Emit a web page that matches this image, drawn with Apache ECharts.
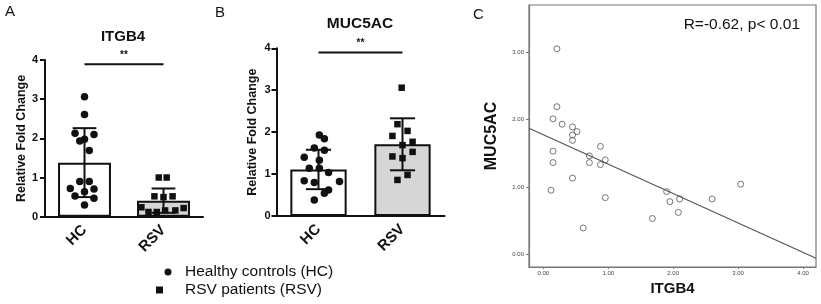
<!DOCTYPE html>
<html><head><meta charset="utf-8">
<script src="https://cdn.jsdelivr.net/npm/echarts@6/dist/echarts.min.js"></script>
<style>html,body{margin:0;padding:0;background:#fff}#c{width:821px;height:304px}</style>
</head><body><div id="c"></div>
<script>
// ---------- data ----------
const groups = ['HC', 'RSV'];
const legendNames = ['Healthy controls (HC)', 'RSV patients (RSV)'];
// Panel A: ITGB4 relative fold change
const itgb4HC = [3.06, 2.61, 2.13, 2.10, 1.98, 1.93, 1.69, 0.90, 0.90, 0.72, 0.71, 0.64, 0.53, 0.47, 0.30];
const itgb4HCJitter = [0, 0, -0.12, 0.12, 0, -0.06, 0.06, -0.06, 0.06, -0.18, 0.12, 0, -0.12, 0.12, 0];
const itgb4RSV = [1.00, 1.00, 0.52, 0.50, 0.52, 0.24, 0.12, 0.12, 0.16, 0.16, 0.22];
const itgb4RSVJitter = [-0.06, 0.04, -0.115, 0, 0.115, -0.28, -0.19, -0.085, 0.02, 0.15, 0.255];
const itgb4Mean = [1.38, 0.41];
const itgb4SD = [0.88, 0.31];
const itgb4Sig = [0, 1, 3.89];
// Panel B: MUC5AC relative fold change
const muc5acHC = [1.93, 1.84, 1.62, 1.57, 1.40, 1.33, 1.14, 1.14, 1.04, 0.84, 0.80, 0.82, 0.62, 0.54, 0.38];
const muc5acHCJitter = [0.01, 0.07, -0.05, 0.07, -0.17, 0.01, -0.11, 0.01, 0.12, -0.17, -0.05, 0.25, 0.12, 0.07, -0.05];
const muc5acRSV = [3.06, 2.19, 2.03, 1.91, 1.77, 1.69, 1.53, 1.42, 1.38, 0.98, 0.86];
const muc5acRSVJitter = [-0.01, -0.06, 0.06, -0.12, 0.12, 0, 0.12, -0.12, 0, 0.06, -0.06];
const muc5acMean = [1.11, 1.71];
const muc5acSD = [0.47, 0.62];
const muc5acSig = [0, 1, 3.90];
// Panel C: correlation
const cITGB4 = [0.21, 0.21, 0.15, 0.29, 0.45, 0.52, 0.45, 0.45, 0.15, 0.88, 0.71, 0.955, 0.15, 0.71, 0.88, 0.45, 0.12, 0.955, 0.615, 1.68, 1.90, 1.95, 2.10, 2.08, 2.60, 3.04];
const cMUC5AC = [3.05, 2.19, 2.01, 1.93, 1.89, 1.82, 1.77, 1.69, 1.53, 1.60, 1.46, 1.40, 1.36, 1.36, 1.33, 1.13, 0.95, 0.84, 0.39, 0.53, 0.93, 0.78, 0.82, 0.62, 0.82, 1.04];
const regLineX = [-0.22, 4.2];
const regLineY = [1.87, -0.06];
const cXTicks = [0, 1, 2, 3, 4];
const cYTicks = [0, 1, 2, 3];
const corrText = 'R=-0.62, p< 0.01';

// ---------- chart ----------
const FONT = '"Liberation Sans", Arial, sans-serif';
const INK = '#111';
const chart = echarts.init(document.getElementById('c'));

function pts(vals, jit, idx) { return vals.map((v, i) => [idx + jit[i], v]); }
function errData(means, sds) { return means.map((m, i) => [i, m, sds[i]]); }
function errRender(params, api) {
  const x = api.value(0), m = api.value(1), s = api.value(2);
  const t = api.coord([x, m + s]), b = api.coord([x, m - s]);
  const tl = api.coord([x - 0.15, m + s]), tr = api.coord([x + 0.15, m + s]);
  const bl = api.coord([x - 0.15, m - s]), br = api.coord([x + 0.15, m - s]);
  const style = { stroke: INK, lineWidth: 2 };
  return { type: 'group', children: [
    { type: 'line', shape: { x1: t[0], y1: t[1], x2: b[0], y2: b[1] }, style },
    { type: 'line', shape: { x1: tl[0], y1: tl[1], x2: tr[0], y2: tr[1] }, style },
    { type: 'line', shape: { x1: bl[0], y1: bl[1], x2: br[0], y2: br[1] }, style }
  ]};
}
function sigRender(params, api) {
  const x1 = api.value(0), x2 = api.value(1), y = api.value(2);
  const a = api.coord([x1, y]), b = api.coord([x2, y]);
  return { type: 'group', children: [
    { type: 'line', shape: { x1: a[0], y1: a[1], x2: b[0], y2: b[1] }, style: { stroke: INK, lineWidth: 2 } },
    { type: 'text', x: (a[0] + b[0]) / 2, y: a[1] - 4, style: { text: '**', fill: INK, font: 'bold 10px ' + FONT, textAlign: 'center', textVerticalAlign: 'bottom' } }
  ]};
}

const catAxis = (grid) => ({
  type: 'category', gridIndex: grid, data: groups,
  axisLine: { onZero: false, lineStyle: { color: INK, width: 2 } },
  axisTick: { alignWithLabel: true, length: 5, lineStyle: { color: INK, width: 2 } },
  axisLabel: { rotate: 45, margin: 11, color: INK, fontFamily: FONT, fontWeight: 'bold', fontSize: 15 }
});
const hidValAxis = (grid) => ({ type: 'value', gridIndex: grid, min: -0.5, max: 1.5, show: false, axisLine: { onZero: false } });
const fcAxis = (grid, margin) => ({
  type: 'value', gridIndex: grid, min: 0, max: 4, interval: 1,
  name: 'Relative Fold Change', nameLocation: 'middle', nameGap: 17,
  nameTextStyle: { color: INK, fontFamily: FONT, fontWeight: 'bold', fontSize: 12.5 },
  axisLine: { show: true, onZero: false, lineStyle: { color: INK, width: 2 } },
  axisTick: { show: true, length: 5, lineStyle: { color: INK, width: 2 } },
  axisLabel: { margin: margin, color: INK, fontFamily: FONT, fontWeight: 'bold', fontSize: 11 },
  splitLine: { show: false }
});

const option = {
  animation: false,
  backgroundColor: '#fff',
  textStyle: { fontFamily: FONT },
  grid: [
    { left: 45, top: 60, width: 158, height: 156.7 },
    { left: 276.5, top: 48.3, width: 168, height: 167.7 },
    { left: 529, top: 5, width: 287, height: 262, show: true, borderColor: '#777', borderWidth: 1.2 }
  ],
  xAxis: [
    catAxis(0), hidValAxis(0), catAxis(1), hidValAxis(1),
    { type: 'value', gridIndex: 2, min: regLineX[0], max: regLineX[1],
      name: 'ITGB4', nameLocation: 'middle', nameGap: 11,
      nameTextStyle: { color: INK, fontFamily: FONT, fontWeight: 'bold', fontSize: 15 },
      axisLine: { show: true, onZero: false, lineStyle: { color: '#777', width: 1.2 } },
      axisTick: { show: true, length: 2, customValues: cXTicks, lineStyle: { color: '#777' } },
      axisLabel: { customValues: cXTicks, margin: 3, color: '#444', fontSize: 6, fontFamily: FONT, formatter: v => v.toFixed(2) },
      splitLine: { show: false } }
  ],
  yAxis: [
    fcAxis(0, 7), fcAxis(1, 6),
    { type: 'value', gridIndex: 2, min: -0.19, max: 3.70,
      name: 'MUC5AC', nameLocation: 'middle', nameGap: 29,
      nameTextStyle: { color: INK, fontFamily: FONT, fontWeight: 'bold', fontSize: 16 },
      axisLine: { show: true, onZero: false, lineStyle: { color: '#777', width: 1.2 } },
      axisTick: { show: true, length: 3, customValues: cYTicks, lineStyle: { color: '#777' } },
      axisLabel: { customValues: cYTicks, margin: 5, color: '#444', fontSize: 6, fontFamily: FONT, formatter: v => v.toFixed(2) },
      splitLine: { show: false } }
  ],
  legend: {
    orient: 'vertical', left: 156, top: 264, height: 40, padding: 0, itemWidth: 24, itemHeight: 7, itemGap: 2,
    selectedMode: false,
    textStyle: { color: INK, fontFamily: FONT, fontSize: 15.5 },
    data: [{ name: legendNames[0], icon: 'circle' }, { name: legendNames[1], icon: 'square' }]
  },
  graphic: [
    { type: 'text', x: 5, y: 4, style: { text: 'A', font: '15px ' + FONT, fill: INK } },
    { type: 'text', x: 215, y: 5, style: { text: 'B', font: '15px ' + FONT, fill: INK } },
    { type: 'text', x: 473, y: 7, style: { text: 'C', font: '15px ' + FONT, fill: INK } },
    { type: 'text', x: 123, y: 37, style: { text: 'ITGB4', font: 'bold 15px ' + FONT, fill: INK, textAlign: 'center', textVerticalAlign: 'middle' } },
    { type: 'text', x: 360, y: 23.5, style: { text: 'MUC5AC', font: 'bold 15.5px ' + FONT, fill: INK, textAlign: 'center', textVerticalAlign: 'middle' } },
    { type: 'text', x: 800, y: 25, style: { text: corrText, font: '15.5px ' + FONT, fill: INK, textAlign: 'right', textVerticalAlign: 'middle' } }
  ],
  series: [
    // Panel A
    { type: 'bar', xAxisIndex: 0, yAxisIndex: 0, barWidth: '67%', z: 1,
      data: itgb4Mean.map((m, i) => ({ value: m, itemStyle: { color: i === 0 ? '#fff' : '#d6d6d6' } })),
      itemStyle: { borderColor: INK, borderWidth: 2 } },
    { type: 'scatter', name: legendNames[0], xAxisIndex: 1, yAxisIndex: 0, symbol: 'circle', symbolSize: 7.5, z: 3,
      itemStyle: { color: INK, opacity: 1 }, data: pts(itgb4HC, itgb4HCJitter, 0) },
    { type: 'scatter', name: legendNames[1], xAxisIndex: 1, yAxisIndex: 0, symbol: 'rect', symbolSize: 6.5, z: 3,
      itemStyle: { color: INK, opacity: 1 }, data: pts(itgb4RSV, itgb4RSVJitter, 1) },
    { type: 'custom', xAxisIndex: 1, yAxisIndex: 0, z: 4, renderItem: errRender, encode: { x: 0, y: 1 }, data: errData(itgb4Mean, itgb4SD) },
    { type: 'custom', xAxisIndex: 1, yAxisIndex: 0, z: 4, renderItem: sigRender, encode: { x: [0, 1], y: 2 }, data: [itgb4Sig] },
    // Panel B
    { type: 'bar', xAxisIndex: 2, yAxisIndex: 1, barWidth: '67%', z: 1,
      data: muc5acMean.map((m, i) => ({ value: m, itemStyle: { color: i === 0 ? '#fff' : '#d6d6d6' } })),
      itemStyle: { borderColor: INK, borderWidth: 2 } },
    { type: 'scatter', name: legendNames[0], xAxisIndex: 3, yAxisIndex: 1, symbol: 'circle', symbolSize: 7.5, z: 3,
      itemStyle: { color: INK, opacity: 1 }, data: pts(muc5acHC, muc5acHCJitter, 0) },
    { type: 'scatter', name: legendNames[1], xAxisIndex: 3, yAxisIndex: 1, symbol: 'rect', symbolSize: 6.5, z: 3,
      itemStyle: { color: INK, opacity: 1 }, data: pts(muc5acRSV, muc5acRSVJitter, 1) },
    { type: 'custom', xAxisIndex: 3, yAxisIndex: 1, z: 4, renderItem: errRender, encode: { x: 0, y: 1 }, data: errData(muc5acMean, muc5acSD) },
    { type: 'custom', xAxisIndex: 3, yAxisIndex: 1, z: 4, renderItem: sigRender, encode: { x: [0, 1], y: 2 }, data: [muc5acSig] },
    // Panel C
    { type: 'line', xAxisIndex: 4, yAxisIndex: 2, showSymbol: false, symbol: 'none', z: 2,
      lineStyle: { color: '#555', width: 1.2 }, data: regLineX.map((x, i) => [x, regLineY[i]]) },
    { type: 'scatter', xAxisIndex: 4, yAxisIndex: 2, symbol: 'circle', symbolSize: 6, z: 3,
      itemStyle: { color: 'rgba(255,255,255,0)', borderColor: '#555', borderWidth: 1 },
      data: cITGB4.map((x, i) => [x, cMUC5AC[i]]) }
  ]
};
chart.setOption(option);
</script>
</body></html>
